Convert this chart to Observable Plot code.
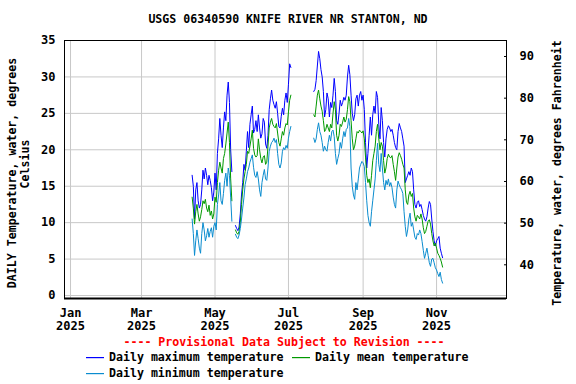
<!DOCTYPE html>
<html><head><meta charset="utf-8">
<script src="https://cdn.jsdelivr.net/npm/d3@7"></script>
<script src="https://cdn.jsdelivr.net/npm/@observablehq/plot@0.6"></script>
<style>
body{margin:0;width:576px;height:384px;background:#fff;position:relative;overflow:hidden;
  font-family:"DejaVu Sans Mono",monospace;font-weight:bold;font-size:11.6px;color:#000;}
.t{position:absolute;white-space:pre;line-height:14px;height:14px;}
.rot{position:absolute;width:320px;height:14px;line-height:14px;text-align:center;white-space:pre;
  transform:rotate(-90deg);transform-origin:160px 7px;}
#chart{position:absolute;left:0;top:30px;}
#legsw{position:absolute;left:0;top:340px;}
</style></head>
<body>
<div id="title" class="t" style="left:0;width:576px;text-align:center;top:12px"></div>
<div id="chart"></div>
<div id="ylab1" class="rot" style="left:-148px;top:166px"></div>
<div id="ylab2" class="rot" style="left:-135px;top:157px"></div>
<div id="ylabR" class="rot" style="left:397px;top:166px"></div>
<div id="prov" class="t" style="left:0;width:568px;text-align:center;top:335px;color:#ff0000"></div>
<svg id="legsw" width="576" height="44">
  <rect x="86" y="17" width="18" height="1.2" fill="#0000ff"/>
  <rect x="292" y="17" width="18" height="1.2" fill="#009900"/>
  <rect x="86" y="33" width="18" height="1.2" fill="#0a8ccf"/>
</svg>
<div id="leg0" class="t" style="left:109px;top:350px"></div>
<div id="leg1" class="t" style="left:315px;top:350px"></div>
<div id="leg2" class="t" style="left:109px;top:366px"></div>
<script>
// ---- text ----
const titleText = "USGS 06340590 KNIFE RIVER NR STANTON, ND";
const yLabelLeft = ["DAILY Temperature, water, degrees", "Celsius"];
const yLabelRight = "Temperature, water, degrees Fahrenheit";
const provisionalText = "---- Provisional Data Subject to Revision ----";
const seriesNames = ["Daily maximum temperature", "Daily mean temperature", "Daily minimum temperature"];
const seriesColors = ["#0000ff", "#009900", "#0a8ccf"];

// ---- ticks ----
const xTickDates = ["2025-01-01", "2025-03-01", "2025-05-01", "2025-07-01", "2025-09-01", "2025-11-01"];
const xTickLabels = ["Jan\n2025", "Mar\n2025", "May\n2025", "Jul\n2025", "Sep\n2025", "Nov\n2025"];
const yTicksC = [0, 5, 10, 15, 20, 25, 30, 35];
const yGridC = [0, 5, 10, 15, 20, 25, 30];
const yTicksF = [40, 50, 60, 70, 80, 90];
const fahrenheitAtAxisEnds = [32.63, 93.84]; // right-axis values at 0 and 35 °C, as drawn in the reference

// ---- data: segment A starts 2025-04-12, segment B starts 2025-07-22 (daily values, °C) ----
const startA = "2025-04-12";
const startB = "2025-07-22";
const maxA = [16.5,15.0,10.5,14.5,15.5,13.0,12.0,12.5,14.5,17.2,16.0,17.5,16.5,15.2,16.5,15.8,14.8,13.0,14.2,
  16.8,14.5,19.5,21.5,24.3,22.0,20.3,23.0,25.2,24.0,27.5,29.3,26.5,20.0,17.0,null,null,9.6,9.2,8.9,9.4,11.2,13.8,15.5,18.0,17.2,19.8,22.5,20.3,23.5,24.8,
  26.0,22.3,22.8,24.0,22.5,24.8,23.0,21.6,22.2,24.3,23.8,20.8,20.2,22.0,25.5,27.0,28.2,26.8,26.2,25.7,26.6,25.0,23.2,23.0,24.6,25.7,24.8,26.8,27.8,26.5,
  29.0,31.8,31.3];
const meanA = [13.5,12.0,9.8,11.5,12.5,11.2,10.2,10.8,11.8,13.0,12.6,13.2,12.0,11.5,12.4,11.0,11.6,10.5,11.2,
  13.5,12.8,15.5,17.2,18.3,17.5,16.8,18.8,19.5,20.8,22.3,23.8,21.0,16.0,13.0,null,null,9.0,8.6,8.4,8.8,10.0,12.5,14.5,16.0,17.0,18.0,19.8,19.5,20.5,21.5,
  22.7,20.2,19.3,19.0,19.2,21.5,20.0,18.8,18.2,19.0,19.2,18.0,18.3,20.5,23.0,23.8,24.3,23.5,23.2,23.0,23.6,22.3,21.0,20.5,21.5,22.5,22.0,23.0,23.6,23.4,
  25.2,26.8,27.5];
const minA = [10.5,8.5,5.5,7.5,9.0,7.8,6.5,5.8,8.5,10.0,9.0,7.5,8.2,9.2,8.0,8.8,9.3,8.0,9.5,
  10.0,9.0,12.5,13.8,15.5,13.0,12.5,14.0,15.8,16.8,15.0,17.5,16.5,13.5,10.2,null,null,8.4,8.0,7.8,8.3,9.2,10.5,12.0,13.4,15.2,16.0,17.0,17.5,18.3,18.8,
  19.3,17.6,16.5,16.2,17.0,16.0,14.5,13.6,15.5,16.5,17.3,16.0,15.8,17.5,19.8,20.5,21.0,21.2,21.6,21.0,21.4,19.5,18.0,17.5,18.2,19.8,20.3,20.0,20.6,20.2,
  21.6,22.5,23.2];
const maxB = [28.0,28.3,29.5,31.5,33.5,32.5,31.0,30.0,28.0,24.5,
  25.5,27.8,27.0,24.5,26.5,25.8,27.5,29.8,28.0,24.0,23.5,25.0,26.8,26.0,26.5,27.2,26.8,27.5,30.0,31.6,30.3,27.5,25.0,24.0,24.8,27.0,27.5,26.0,27.5,28.0,26.8,
  27.5,25.5,21.0,17.5,19.5,22.0,24.5,22.0,24.8,26.0,25.0,28.0,27.2,23.5,21.5,25.8,24.0,21.0,19.0,21.5,22.8,23.3,23.0,22.5,22.8,22.0,21.0,20.3,20.0,22.5,
  23.6,23.0,22.5,21.5,20.5,15.5,16.0,16.5,17.0,16.5,17.5,17.0,14.5,12.5,12.0,12.8,13.0,12.2,12.5,11.8,11.0,10.5,10.2,10.8,12.0,12.9,12.5,10.5,8.8,7.5,6.8,
  7.5,7.8,8.1,6.5,5.8,5.2];
const meanB = [24.8,24.5,26.0,27.5,28.2,27.0,26.0,25.3,24.0,22.5,
  22.8,23.5,23.0,22.5,23.5,23.0,25.0,26.6,25.5,22.0,21.2,22.0,23.5,23.2,23.8,24.5,23.8,24.2,25.5,27.3,26.6,24.0,21.5,20.0,20.5,21.5,22.5,22.3,22.7,22.5,22.3,
  22.6,21.5,19.0,16.5,15.5,16.0,14.8,16.5,18.5,19.5,20.5,22.5,23.5,21.5,20.0,21.0,20.5,18.5,16.8,17.5,18.8,19.4,19.0,18.9,19.2,18.0,17.0,15.8,17.5,19.0,
  19.6,19.2,18.7,18.0,17.5,14.5,12.8,12.5,13.8,14.3,13.6,14.0,12.0,10.8,10.2,11.0,10.8,10.5,11.2,10.5,9.3,8.5,8.8,9.5,10.2,10.4,9.8,8.5,7.5,6.8,7.2,
  6.5,5.8,5.5,5.1,4.6,3.9];
const minB = [21.6,21.0,21.5,22.8,23.7,22.5,22.0,21.0,19.8,20.5,
  20.0,19.8,21.0,22.0,21.2,22.5,22.7,21.8,19.5,18.0,18.8,19.5,21.0,20.2,21.5,22.5,21.8,22.8,23.0,24.3,23.2,17.5,15.0,13.8,13.2,15.5,14.5,16.0,17.5,18.0,18.4,
  18.2,17.7,15.5,13.0,11.0,10.0,9.5,11.5,13.0,14.5,16.0,18.5,20.9,18.0,17.0,19.5,17.5,15.5,14.5,15.8,15.2,16.0,15.0,15.5,14.8,13.5,12.5,12.0,14.5,15.7,
  15.2,14.8,14.5,14.0,11.5,9.5,8.1,9.0,10.5,11.3,9.5,10.0,9.0,8.0,7.7,8.5,8.3,9.0,8.5,7.4,6.2,5.1,5.8,6.5,5.5,4.5,4.0,5.0,5.1,4.5,3.8,
  3.5,3.0,2.6,3.2,2.2,1.7];

// ---- build table ----
function segRows(start, mx, mn, lo, seg) {
  const s = new Date(start + "T00:00:00Z");
  return mx.map((v, i) => ({date: d3.utcDay.offset(s, i), max: v, mean: mn[i], min: lo[i], seg}));
}
const rows = segRows(startA, maxA, meanA, minA, "A").concat(segRows(startB, maxB, meanB, minB, "B"));

const xTicks = xTickDates.map(s => new Date(s + "T00:00:00Z"));
const xLabelMap = new Map(xTicks.map((d, i) => [+d, xTickLabels[i]]));
const fToAxis = f => (f - fahrenheitAtAxisEnds[0]) * 35 / (fahrenheitAtAxisEnds[1] - fahrenheitAtAxisEnds[0]);
const fPos = yTicksF.map(fToAxis);
const fLabelMap = new Map(fPos.map((p, i) => [p, String(yTicksF[i])]));

const chart = Plot.plot({
  width: 576, height: 302,
  marginTop: 10, marginBottom: 34, marginLeft: 64, marginRight: 70,
  style: {fontFamily: "'DejaVu Sans Mono', monospace", fontWeight: "bold", fontSize: "12px", color: "black", background: "white", overflow: "visible"},
  x: {type: "utc", domain: [new Date(Date.UTC(2024, 11, 27)), new Date(Date.UTC(2025, 11, 29, 2))], label: null},
  y: {domain: [-0.41, 35], label: null},
  marks: [
    Plot.gridX(xTicks, {stroke: "#c8c8c8", strokeOpacity: 1}),
    Plot.gridY(yGridC, {stroke: "#c8c8c8", strokeOpacity: 1}),
    Plot.line(rows, {x: "date", y: "max", z: "seg", stroke: seriesColors[0], strokeWidth: 1}),
    Plot.line(rows, {x: "date", y: "mean", z: "seg", stroke: seriesColors[1], strokeWidth: 1}),
    Plot.line(rows, {x: "date", y: "min", z: "seg", stroke: seriesColors[2], strokeWidth: 1}),
    Plot.frame({stroke: "black", strokeWidth: 1}),
    Plot.ruleY([-0.41], {stroke: "black", strokeWidth: 2}),
    Plot.axisX(xTicks, {tickSize: 0, tickPadding: 9, tickFormat: d => xLabelMap.get(+d), fontSize: 12, lineHeight: 1.08, label: null}),
    Plot.axisY(yTicksC, {anchor: "left", tickSize: 0, tickPadding: 9, tickFormat: d => String(d), fontSize: 12, label: null}),
    Plot.axisY(fPos, {anchor: "right", tickSize: -3, tickPadding: 16, tickFormat: d => fLabelMap.get(d), fontSize: 12, label: null})
  ]
});
document.getElementById("chart").appendChild(chart);

document.getElementById("title").textContent = titleText;
document.getElementById("ylab1").textContent = yLabelLeft[0];
document.getElementById("ylab2").textContent = yLabelLeft[1];
document.getElementById("ylabR").textContent = yLabelRight;
document.getElementById("prov").textContent = provisionalText;
seriesNames.forEach((n, i) => {
  document.getElementById("leg" + i).textContent = n;
});
</script>
</body></html>
